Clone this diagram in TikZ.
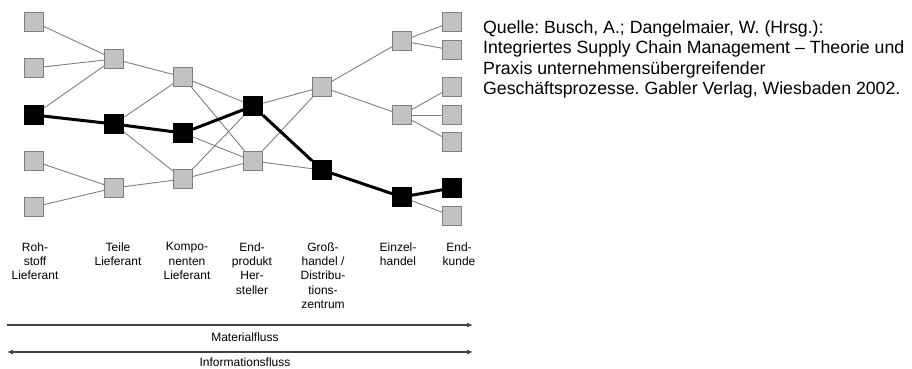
\documentclass[tikz,border=0pt]{standalone}
\usepackage{fontspec}
\setmainfont{Liberation Sans}
\frenchspacing
\usetikzlibrary{arrows.meta}
\tikzset{
  >={Latex[length=6pt,width=5pt]},
}
\tikzstyle{gbox}=[draw=black!50,fill=black!24,line width=0.8pt,minimum size=19pt,inner sep=0pt]
\tikzstyle{bbox}=[draw=black,fill=black,line width=0.8pt,minimum size=19pt,inner sep=0pt]
\tikzstyle{lnk}=[black!50,line width=0.9pt]
\tikzstyle{pfad}=[black,line width=3pt]
\tikzstyle{lbl}=[font=\fontsize{12}{14.3}\selectfont,align=center,anchor=north,inner sep=0pt]
\tikzstyle{flow}=[black!75,line width=1.5pt]

\begin{document}
\begin{tikzpicture}[x=1pt,y=-1pt]
        \useasboundingbox (0,0) rectangle (912,369);
        % Rohstoff-Lieferanten
        \node[gbox] (r1) at (34,22) {};
        \node[gbox] (r2) at (34,68) {};
        \node[bbox] (r3) at (34,115) {};
        \node[gbox] (r4) at (34,161) {};
        \node[gbox] (r5) at (34,207) {};
        % Teile-Lieferanten
        \node[gbox] (t1) at (114,59) {};
        \node[bbox] (t2) at (114,124) {};
        \node[gbox] (t3) at (114,188) {};
        % Komponenten-Lieferanten
        \node[gbox] (k1) at (183,77) {};
        \node[bbox] (k2) at (183,133) {};
        \node[gbox] (k3) at (183,179) {};
        % Endprodukt-Hersteller
        \node[bbox] (e1) at (253,106) {};
        \node[gbox] (e2) at (253,161) {};
        % Grosshandel
        \node[gbox] (g1) at (322,87) {};
        \node[bbox] (g2) at (322,170) {};
        % Einzelhandel
        \node[gbox] (h1) at (402,41) {};
        \node[gbox] (h2) at (402,115) {};
        \node[bbox] (h3) at (402,197) {};
        % Endkunden
        \node[gbox] (c1) at (452,22) {};
        \node[gbox] (c2) at (452,50) {};
        \node[gbox] (c3) at (452,87) {};
        \node[gbox] (c4) at (452,115) {};
        \node[gbox] (c5) at (452,142) {};
        \node[bbox] (c6) at (452,188) {};
        \node[gbox] (c7) at (452,216) {};

        \foreach \a/\b in {r1/t1,r2/t1,r3/t1,r4/t3,r5/t3,t1/k1,t2/k1,t2/k3,t3/k3,
            k1/e1,k1/e2,k2/e2,k3/e1,k3/e2,e1/g1,e2/g1,e2/g2,g1/h1,g1/h2,
            h1/c1,h1/c2,h2/c3,h2/c4,h2/c5,h3/c7}
          \draw[lnk] (\a) -- (\b);
        \draw[pfad] (r3) -- (t2) -- (k2) -- (e1) -- (g2) -- (h3) -- (c6);

        \node[lbl] (lr) at (35,242.4) {Roh-\\stoff\\Lieferant};
        \node[lbl] (lt) at (118,242.4) {Teile\\Lieferant};
        \node[lbl] (lk) at (187,242.4) {Kompo-\\nenten\\Lieferant};
        \node[lbl] (le) at (252,242.4) {End-\\produkt\\Her-\\steller};
        \node[lbl] (lg) at (323,242.4) {Groß-\\handel /\\Distribu-\\tions-\\zentrum};
        \node[lbl] (lh) at (398,242.4) {Einzel-\\handel};
        \node[lbl] (lc) at (459,242.4) {End-\\kunde};

        \coordinate (m0) at (7,325);
        \coordinate (m1) at (473,325);
        \coordinate (i0) at (7,352);
        \coordinate (i1) at (473,352);
        \draw[flow,->] (m0) -- (m1);
        \draw[flow,<->] (i0) -- (i1);
        \node[lbl,anchor=base] (mat) at (245,341.5) {Materialfluss};
        \node[lbl,anchor=base] (inf) at (245,366) {Informationsfluss};

        \node[font=\fontsize{17.7}{20.3}\selectfont,align=left,anchor=north west,inner sep=0pt] (quelle) at (483,20.6)
          {Quelle: Busch, A.; Dangelmaier, W. (Hrsg.):\\Integriertes Supply Chain Management – Theorie und\\Praxis unternehmensübergreifender\\Geschäftsprozesse. Gabler Verlag, Wiesbaden 2002.};
      \end{tikzpicture}
\end{document}
